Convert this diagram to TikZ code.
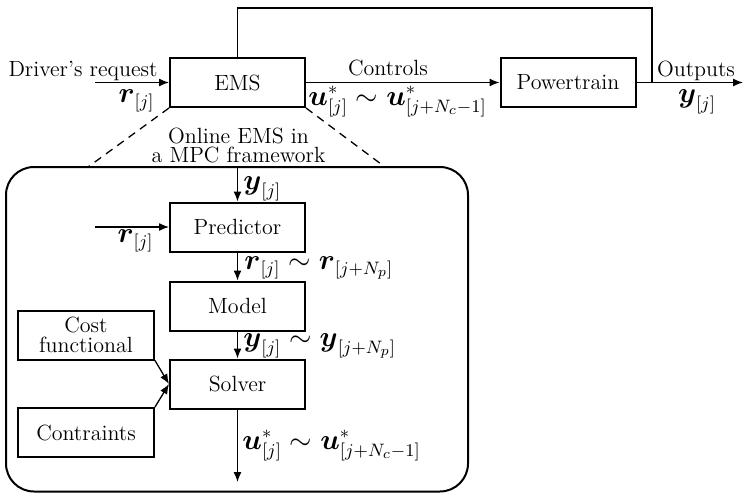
\documentclass[tikz,border=0pt]{standalone}
\usepackage{amsmath}
\usetikzlibrary{arrows.meta}

\tikzset{
  txt/.style={font=\fontsize{11}{13}\selectfont},
  blk/.style={txt, draw, line width=1pt, minimum width=67.5pt, minimum height=24.5pt, inner sep=0pt},
  conn/.style={line width=0.65pt},
  arr/.style={conn, -{Latex[length=5pt,width=4pt]}},
  lbl/.style={txt, inner sep=0pt},
  mlbl/.style={font=\fontsize{13.4}{15}\selectfont, inner sep=0pt},
}

\begin{document}
\begin{tikzpicture}[x=0.5pt, y=-0.5pt]
  \useasboundingbox (0,0) rectangle (744,493);

  % top-level loop
  \node[blk] (ems) at (237.5,82.5) {EMS};
  \node[blk] (pt) at (568,82.5) {Powertrain};

  \coordinate (drv) at (95,82.5);
  \coordinate (out) at (743,82.5);
  \coordinate (fb) at (652,82.5);
  \coordinate (fbtop) at (652,8);
  \coordinate (fbleft) at (237.5,8);

  \draw[arr] (drv) -- (ems.west);
  \draw[arr] (ems.east) -- (pt.west);
  \draw[arr] (pt.east) -- (out);
  \draw[conn] (fb) -- (fbtop) -- (fbleft) -- (ems.north);

  \node[lbl, anchor=base] (tdrv) at (83,76) {Driver's request};
  \node[mlbl, anchor=east] (trin) at (155,101) {$\boldsymbol{r}_{[j]}$};
  \node[lbl, anchor=base] (tctl) at (388,75.5) {Controls};
  \node[mlbl, anchor=west] (tu) at (308,102) {$\boldsymbol{u}^*_{[j]}\sim\boldsymbol{u}^*_{[j+N_c-1]}$};
  \node[lbl, anchor=base] (tout) at (696,76) {Outputs};
  \node[mlbl] (ty) at (697,102) {$\boldsymbol{y}_{[j]}$};

  % zoomed-in MPC framework
  \draw[line width=1pt, rounded corners=14pt] (6,167) rectangle (468,491.5);
  \coordinate (fl) at (88,167);
  \coordinate (fr) at (385,167);
  \draw[conn, dashed, dash pattern=on 4pt off 3pt] (ems.south west) -- (fl);
  \draw[conn, dashed, dash pattern=on 4pt off 3pt] (ems.south east) -- (fr);
  \node[lbl, align=center, anchor=base] (tmpc) at (238.5,162) {Online EMS in\\[-3.5pt]a MPC framework};

  \node[blk] (pred) at (237.5,227) {Predictor};
  \node[blk] (model) at (237.5,306) {Model};
  \node[blk] (solv) at (237.5,384) {Solver};
  \node[blk, align=center, minimum width=68pt] (cost) at (86,335) {Cost\\[-3pt]functional};
  \node[blk, minimum width=68pt] (cons) at (86,432.5) {Contraints};

  \coordinate (yin) at (237.5,167);
  \coordinate (rin) at (95,227);
  \coordinate (uout) at (237.5,482);

  \draw[arr] (yin) -- (pred.north);
  \draw[arr] (rin) -- (pred.west);
  \draw[arr] (pred.south) -- (model.north);
  \draw[arr] (model.south) -- (solv.north);
  \draw[arr] (cost.south east) -- (solv.west);
  \draw[arr] (cons.north east) -- (solv.west);
  \draw[arr] (solv.south) -- (uout);

  \node[mlbl, anchor=west] (tyin) at (243,189) {$\boldsymbol{y}_{[j]}$};
  \node[mlbl, anchor=east] (trin2) at (154,241) {$\boldsymbol{r}_{[j]}$};
  \node[mlbl, anchor=west] (trr) at (244,268) {$\boldsymbol{r}_{[j]}\sim\boldsymbol{r}_{[j+N_p]}$};
  \node[mlbl, anchor=west] (tyy) at (243,346) {$\boldsymbol{y}_{[j]}\sim\boldsymbol{y}_{[j+N_p]}$};
  \node[mlbl, anchor=west] (tuu) at (242,446) {$\boldsymbol{u}^*_{[j]}\sim\boldsymbol{u}^*_{[j+N_c-1]}$};
\end{tikzpicture}
\end{document}
